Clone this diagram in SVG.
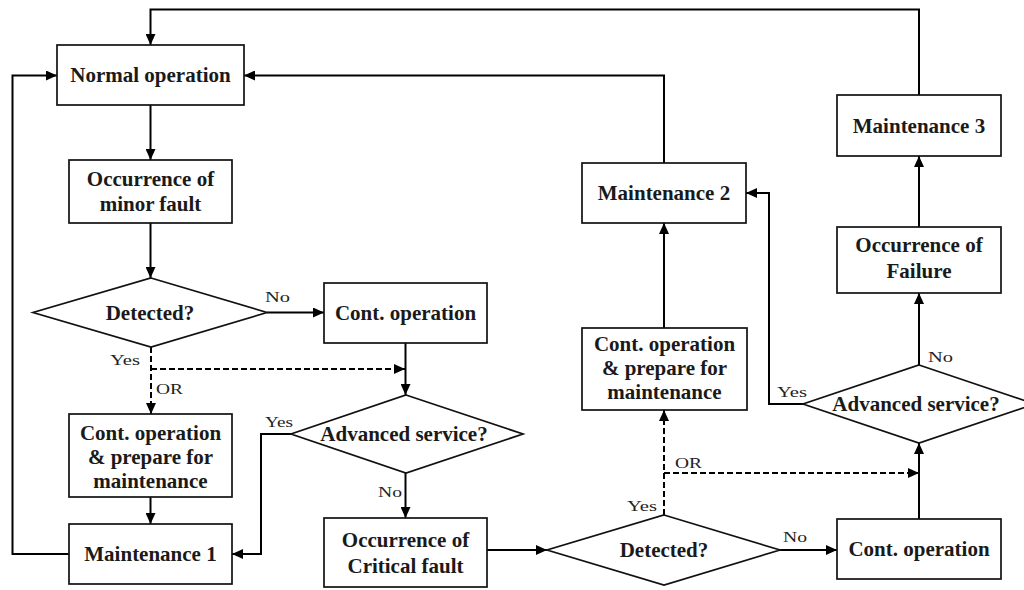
<svg xmlns="http://www.w3.org/2000/svg" width="1024" height="590" viewBox="0 0 1024 590">
  <defs>
    <marker id="arrow" markerUnits="userSpaceOnUse" markerWidth="11" markerHeight="10" refX="11" refY="5" orient="auto">
      <path d="M0,0 L11,5 L0,10 z" fill="#000"/>
    </marker>
    <style>
      .box { fill: #fff; stroke: #111; stroke-width: 1.7; }
      .t { font-family: "Liberation Serif", "Times New Roman", serif; font-weight: bold; font-size: 21px; fill: #1a1a1a; text-anchor: middle; }
      .lbl { font-family: "Liberation Serif", "Times New Roman", serif; font-size: 15px; fill: #222; }
      .ln { fill: none; stroke: #000; stroke-width: 2; }
      .dash { fill: none; stroke: #000; stroke-width: 2; stroke-dasharray: 6 3; }
      .arr { marker-end: url(#arrow); }
    </style>
  </defs>
  <rect width="1024" height="590" fill="#fff"/>

  <!-- connectors -->
  <g id="connectors">
    <path class="ln arr" d="M919,95 V9.5 H150.5 V45"/>
    <path class="ln arr" d="M69,554 H12.5 V75.5 H57"/>
    <path class="ln arr" d="M664,163 V75.5 H244"/>
    <path class="ln arr" d="M150.5,105 V160"/>
    <path class="ln arr" d="M150.5,223 V278"/>
    <path class="ln arr" d="M267,312.5 H324"/>
    <path class="dash arr" d="M151,347 V414"/>
    <path class="dash arr" d="M151,369 H405"/>
    <path class="ln arr" d="M405.5,343 V395"/>
    <path class="ln arr" d="M291,434 H261 V554 H232"/>
    <path class="ln arr" d="M150.5,497 V524"/>
    <path class="ln arr" d="M405.5,473 V518"/>
    <path class="ln arr" d="M487,550 H547"/>
    <path class="ln arr" d="M780,550 H837"/>
    <path class="dash arr" d="M664,515 V410"/>
    <path class="dash arr" d="M664,473 H919"/>
    <path class="ln arr" d="M919,519 V443"/>
    <path class="ln arr" d="M664,328 V223"/>
    <path class="ln arr" d="M803,404 H769 V193 H746"/>
    <path class="ln arr" d="M919,365 V293"/>
    <path class="ln arr" d="M919,227 V156"/>
  </g>

  <!-- branch labels -->
  <g id="labels">
    <text class="lbl" x="265" y="302" textLength="25" lengthAdjust="spacingAndGlyphs">No</text>
    <text class="lbl" x="110" y="365" textLength="30" lengthAdjust="spacingAndGlyphs">Yes</text>
    <text class="lbl" x="156" y="394" textLength="27" lengthAdjust="spacingAndGlyphs">OR</text>
    <text class="lbl" x="265" y="427" textLength="28" lengthAdjust="spacingAndGlyphs">Yes</text>
    <text class="lbl" x="378" y="497" textLength="24" lengthAdjust="spacingAndGlyphs">No</text>
    <text class="lbl" x="627" y="511" textLength="30" lengthAdjust="spacingAndGlyphs">Yes</text>
    <text class="lbl" x="675" y="468" textLength="27" lengthAdjust="spacingAndGlyphs">OR</text>
    <text class="lbl" x="783" y="542" textLength="24" lengthAdjust="spacingAndGlyphs">No</text>
    <text class="lbl" x="777" y="397" textLength="30" lengthAdjust="spacingAndGlyphs">Yes</text>
    <text class="lbl" x="928" y="362" textLength="25" lengthAdjust="spacingAndGlyphs">No</text>
  </g>

  <!-- nodes -->
  <g id="normal-operation">
    <rect class="box" x="57" y="45" width="187" height="60"/>
    <text class="t" x="150.5" y="82">Normal operation</text>
  </g>
  <g id="minor-fault">
    <rect class="box" x="69" y="160" width="163" height="63"/>
    <text class="t" x="150.5" y="186">Occurrence of</text>
    <text class="t" x="150.5" y="211">minor fault</text>
  </g>
  <g id="detected-1">
    <polygon class="box" points="151,278 267,312.5 151,347 33,312.5"/>
    <text class="t" x="150" y="320">Detected?</text>
  </g>
  <g id="cont-operation-1">
    <rect class="box" x="324" y="283" width="163" height="60"/>
    <text class="t" x="405.5" y="320">Cont. operation</text>
  </g>
  <g id="prepare-1">
    <rect class="box" x="69" y="414" width="163" height="83"/>
    <text class="t" x="150.5" y="439.5">Cont. operation</text>
    <text class="t" x="150.5" y="463.5">&amp; prepare for</text>
    <text class="t" x="150.5" y="487.5">maintenance</text>
  </g>
  <g id="maintenance-1">
    <rect class="box" x="69" y="524" width="163" height="60"/>
    <text class="t" x="150.5" y="561">Maintenance 1</text>
  </g>
  <g id="advanced-service-1">
    <polygon class="box" points="406,395 523,434 406,473 291,434"/>
    <text class="t" x="404" y="441">Advanced service?</text>
  </g>
  <g id="critical-fault">
    <rect class="box" x="324" y="518" width="163" height="69"/>
    <text class="t" x="405.5" y="547">Occurrence of</text>
    <text class="t" x="405.5" y="573">Critical fault</text>
  </g>
  <g id="detected-2">
    <polygon class="box" points="664,515 780,550 664,585 547,550"/>
    <text class="t" x="664" y="557">Detected?</text>
  </g>
  <g id="cont-operation-2">
    <rect class="box" x="837" y="519" width="164" height="60"/>
    <text class="t" x="919" y="556">Cont. operation</text>
  </g>
  <g id="advanced-service-2">
    <polygon class="box" points="919,365 1035,404 919,443 803,404"/>
    <text class="t" x="916" y="411">Advanced service?</text>
  </g>
  <g id="prepare-2">
    <rect class="box" x="582" y="328" width="165" height="82"/>
    <text class="t" x="664.5" y="351">Cont. operation</text>
    <text class="t" x="664.5" y="375">&amp; prepare for</text>
    <text class="t" x="664.5" y="399">maintenance</text>
  </g>
  <g id="maintenance-2">
    <rect class="box" x="582" y="163" width="164" height="60"/>
    <text class="t" x="664" y="200">Maintenance 2</text>
  </g>
  <g id="failure">
    <rect class="box" x="837" y="227" width="164" height="66"/>
    <text class="t" x="919" y="252">Occurrence of</text>
    <text class="t" x="919" y="278">Failure</text>
  </g>
  <g id="maintenance-3">
    <rect class="box" x="837" y="95" width="164" height="61"/>
    <text class="t" x="919" y="133">Maintenance 3</text>
  </g>
</svg>
